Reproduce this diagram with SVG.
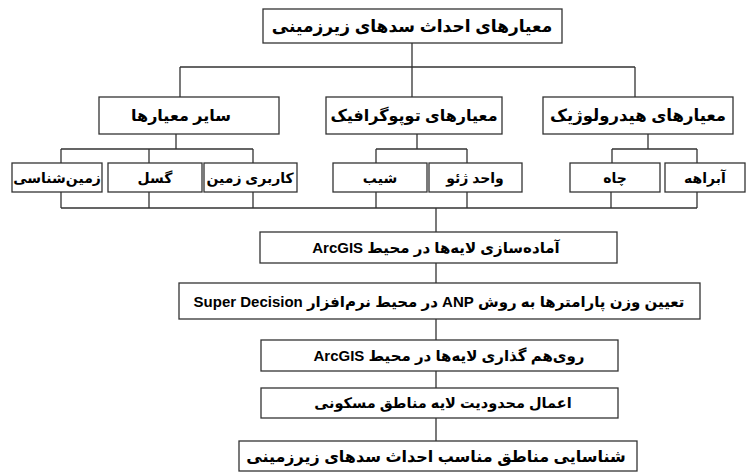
<svg xmlns="http://www.w3.org/2000/svg" width="747" height="473" viewBox="0 0 747 473">
<style>
.box{fill:#fff;stroke:#333;stroke-width:1.3}
.t{font-family:"Liberation Sans","DejaVu Sans",sans-serif;font-weight:bold;fill:#000;text-anchor:middle;dominant-baseline:central}
.c{fill:none;stroke:#333;stroke-width:1.3}
</style>
<rect width="747" height="473" fill="#fff"/>
<g id="connectors" class="c">
<path d="M412 43V97M180 67H635M180 67V97M635 67V97"/>
<path d="M176 134V149M61 149H253M61 149V163M149 149V163M253 149V163"/>
<path d="M417 134V149M376 149H467M376 149V163M467 149V163"/>
<path d="M648 134V149M612 149H697M612 149V163M697 149V163"/>
<path d="M61 192V208M149 192V208M253 192V208M376 192V208M467 192V208M611 192V208M697 192V208M61 208H697"/>
<path d="M436 208V232M436 263V283M436 319V340M436 371V388M436 418V441"/>
</g>
<g id="n_root"><rect class="box" x="263" y="9" width="299" height="34"/><text class="t" x="412" y="26" font-size="17" direction="rtl">معیارهای احداث سدهای زیرزمینی</text></g>
<g id="n_other"><rect class="box" x="99" y="97" width="180" height="37"/><text class="t" x="181" y="115" font-size="16" direction="rtl">سایر معیارها</text></g>
<g id="n_topo"><rect class="box" x="326" y="97" width="176" height="37"/><text class="t" x="414" y="115" font-size="16" direction="rtl">معیارهای توپوگرافیک</text></g>
<g id="n_hydro"><rect class="box" x="543" y="97" width="190" height="37"/><text class="t" x="638" y="115" font-size="16.5" direction="rtl">معیارهای هیدرولوژیک</text></g>
<g id="n_geology"><rect class="box" x="12" y="163" width="90" height="29"/><text class="t" x="57" y="178" font-size="14" direction="rtl">زمین‌شناسی</text></g>
<g id="n_fault"><rect class="box" x="108" y="163" width="94" height="29"/><text class="t" x="155" y="178" font-size="14" direction="rtl">گسل</text></g>
<g id="n_landuse"><rect class="box" x="204" y="163" width="93" height="29"/><text class="t" x="250" y="178" font-size="14" direction="rtl">کاربری زمین</text></g>
<g id="n_slope"><rect class="box" x="333" y="163" width="94" height="29"/><text class="t" x="380" y="178" font-size="14" direction="rtl">شیب</text></g>
<g id="n_geounit"><rect class="box" x="429" y="163" width="93" height="29"/><text class="t" x="475" y="178" font-size="14" direction="rtl">واحد ژئو</text></g>
<g id="n_well"><rect class="box" x="570" y="163" width="90" height="29"/><text class="t" x="615" y="178" font-size="14" direction="rtl">چاه</text></g>
<g id="n_stream"><rect class="box" x="665" y="163" width="80" height="29"/><text class="t" x="705" y="178" font-size="14" direction="rtl">آبراهه</text></g>
<g id="n_prep"><rect class="box" x="260" y="232" width="357" height="31"/><text class="t" x="436" y="247" font-size="15" direction="rtl">آماده‌سازی لایه‌ها در محیط ArcGIS</text></g>
<g id="n_anp"><rect class="box" x="179" y="283" width="521" height="36"/><text class="t" x="439" y="301" font-size="15" direction="rtl">تعیین وزن پارامترها به روش ANP در محیط نرم‌افزار Super Decision</text></g>
<g id="n_overlay"><rect class="box" x="261" y="340" width="357" height="31"/><text class="t" x="449" y="355" font-size="15" direction="rtl">روی‌هم گذاری لایه‌ها در محیط ArcGIS</text></g>
<g id="n_limit"><rect class="box" x="261" y="388" width="357" height="30"/><text class="t" x="443" y="403" font-size="14.5" direction="rtl">اعمال محدودیت لایه مناطق مسکونی</text></g>
<g id="n_final"><rect class="box" x="239" y="441" width="398" height="30"/><text class="t" x="436" y="456" font-size="16" direction="rtl">شناسایی مناطق مناسب احداث سدهای زیرزمینی</text></g>
</svg>
